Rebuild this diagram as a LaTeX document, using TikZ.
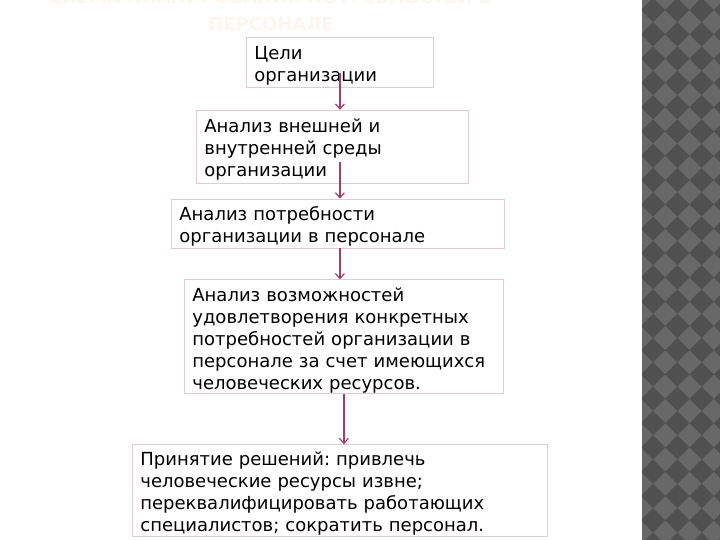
\documentclass[tikz,border=0pt]{standalone}
\usepackage{fontspec}
\setmainfont{DejaVu Sans}
\usetikzlibrary{arrows.meta,positioning}
\frenchspacing

\definecolor{boxline}{RGB}{226,202,214}
\definecolor{arrowcol}{RGB}{158,62,108}
\definecolor{titlecol}{RGB}{253,246,239}
\definecolor{tilelight}{RGB}{104,104,104}
\definecolor{tiledark}{RGB}{80,80,80}

\begin{document}
\begin{tikzpicture}[
    x=1pt, y=-1pt,
    node distance=22pt,
    block/.style={draw=boxline, line width=0.8pt, fill=white, align=left, inner xsep=8pt, inner ysep=0pt, font=\fontsize{18}{22}\selectfont,
        execute at begin node={\rule{0pt}{21pt}}, execute at end node={\rule[-4.5pt]{0pt}{0pt}}},
    arrow/.style={-{Straight Barb[length=5pt,width=9pt]}, draw=arrowcol, line width=1.2pt},
    title/.style={font=\fontsize{18}{27.5}\selectfont\bfseries, text=titlecol, align=center, inner sep=0pt}
]
    \useasboundingbox (0,0) rectangle (720,540);
    \fill[white] (0,0) rectangle (720,540);
    \begin{scope}
        \clip (642,0) rectangle (720,540);
        \fill[tilelight] (642,0) rectangle (720,540);
        \foreach \i in {-1,...,3}
            \foreach \j in {-1,...,22}
                \fill[tiledark] ({653+24.3*\i},{10+24.3*\j}) +(-12.15,0) -- +(0,-12.15) -- +(12.15,0) -- +(0,12.15) -- cycle;
    \end{scope}

    \node[title, anchor=south] (title) at (271,31) {СХЕМА ПЛАНИРОВАНИЯ ПОТРЕБНОСТЕЙ В\\ПЕРСОНАЛЕ};

    \node[block, text width=171pt, minimum height=50pt, anchor=north west] (goals) at (246,37) {Цели\\организации};
    \node[block, text width=256pt, minimum height=73pt, below=of goals, xshift=-7.5pt] (environment) {Анализ внешней и\\внутренней среды\\организации};
    \node[block, text width=317pt, minimum height=49pt, below=15pt of environment, xshift=5.5pt] (needs) {Анализ потребности\\организации в персонале};
    \node[block, text width=303pt, minimum height=114pt, below=31pt of needs, xshift=6pt] (resources) {Анализ возможностей\\удовлетворения конкретных\\потребностей организации в\\персонале за счет имеющихся\\человеческих ресурсов.};
    \node[block, text width=399pt, minimum height=92pt, below=50pt of resources, xshift=-4pt] (decision) {Принятие решений: привлечь\\человеческие ресурсы извне;\\переквалифицировать работающих\\специалистов; сократить персонал.};

    \draw[arrow] ([yshift=15pt]goals.south) -- (goals.south |- environment.north);
    \draw[arrow] (environment.south -| goals.south) ++(0pt,22pt) -- (needs.north -| goals.south);
    \draw[arrow] (needs.south -| goals.south) -- (resources.north -| goals.south);
    \draw[arrow] (resources.south) -- (resources.south |- decision.north);
\end{tikzpicture}
\end{document}
